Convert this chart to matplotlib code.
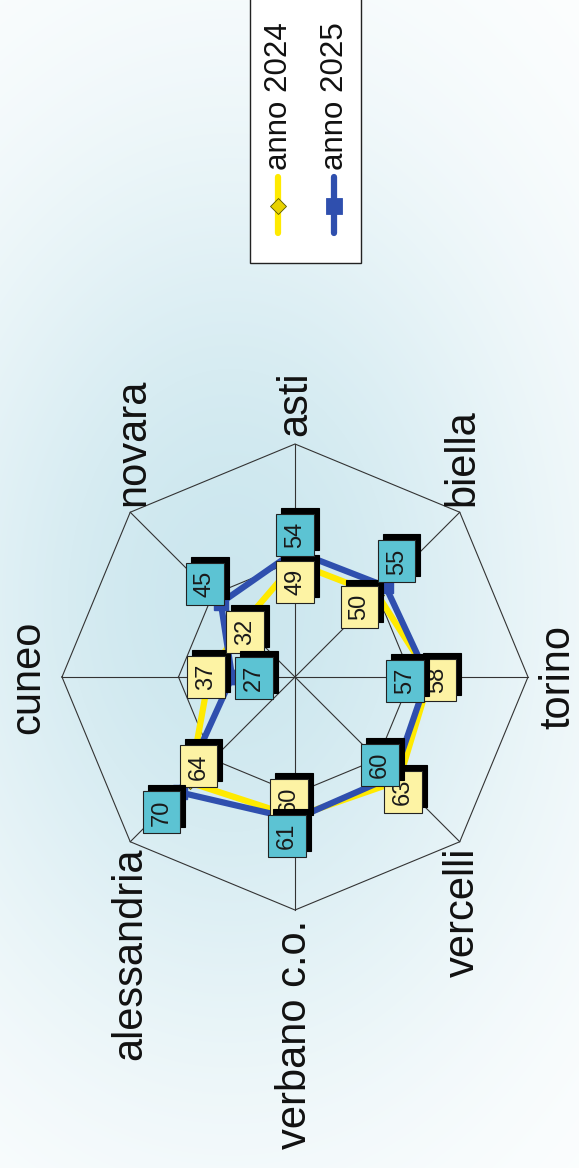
import numpy as np
import matplotlib.pyplot as plt

# categories in drawing order (start at left, go clockwise on the page)
provinces = ["cuneo", "novara", "asti", "biella", "torino",
             "vercelli", "verbano c.o.", "alessandria"]
anno_2024 = [37, 32, 49, 50, 58, 63, 60, 64]
anno_2025 = [27, 45, 54, 55, 57, 60, 61, 70]
series_names = ["anno 2024", "anno 2025"]

W, H = 579, 1168          # output size in px
CX, CY = 295, 677          # chart centre (px from top-left)
PX = 2.33                  # px per unit of value

YELLOW = "#ffea00"
BLUE = "#2f4fae"
BOX_Y = "#fdf3a4"
BOX_B = "#5cc3d3"

# label box offsets in px (right, down) - layout only
off_2024 = [(-3, 0), (3, 8), (0, 19), (-18, 12), (7, 3), (4, 11), (-6, -17), (9, -16)]
off_2025 = [(22, 1), (-16, -19), (0, -16), (11, -25), (-23, 4), (-14, -11), (-8, 17), (-18, 20)]
# category label offsets (px right, px down) and alignment
cat_pos = [(-14, 0, "right", "center"), (3, -6, "center", "bottom"),
           (0, -8, "center", "bottom"), (3, -6, "center", "bottom"),
           (10, 0, "left", "center"), (3, 6, "center", "top"),
           (0, 10, "center", "top"), (0, 6, "center", "top")]

fig = plt.figure(figsize=(W / 100, H / 100), dpi=100)

# soft blue background
bg = fig.add_axes([0, 0, 1, 1])
yy, xx = np.mgrid[0:H, 0:W]
w = np.exp(-((xx - 230) / 330.0) ** 2 - ((yy - 600) / 470.0) ** 2)
base = np.array([0.80, 0.905, 0.935])
img = 1 - w[..., None] * (1 - base)
bg.imshow(img, extent=[0, 1, 0, 1], aspect="auto")
bg.axis("off")

ax = fig.add_axes([0, 0, 1, 1])
ax.set_xlim(-CX / PX, (W - CX) / PX)
ax.set_ylim(-(H - CY) / PX, CY / PX)
ax.axis("off")
ax.patch.set_alpha(0)

n = len(provinces)
theta = np.deg2rad(180 - 45 * np.arange(n))

# grid: two octagons and spokes
for r in (50, 100):
    gx = np.append(r * np.cos(theta), r * np.cos(theta[0]))
    gy = np.append(r * np.sin(theta), r * np.sin(theta[0]))
    ax.plot(gx, gy, color="#333333", lw=0.8, zorder=1)
for t in theta:
    ax.plot([0, 100 * np.cos(t)], [0, 100 * np.sin(t)], color="#333333", lw=0.8, zorder=1)

def closed(vals):
    v = np.array(vals + vals[:1], dtype=float)
    t = np.append(theta, theta[0])
    return v * np.cos(t), v * np.sin(t)

x24, y24 = closed(anno_2024)
x25, y25 = closed(anno_2025)
ax.plot(x24, y24, color=YELLOW, lw=4.5, marker="D", ms=7, mfc="#e8d200",
        mec="#555500", mew=0.6, zorder=3)
ax.plot(x25, y25, color=BLUE, lw=4.5, marker="s", ms=10, mfc=BLUE, mec=BLUE, zorder=4)

def value_labels(vals, offs, fc, z):
    for v, t, (dx, dy) in zip(vals, theta, offs):
        px, py = v * np.cos(t), v * np.sin(t)
        ax.annotate(str(v), (px, py), xytext=(dx + 5, -dy + 6), textcoords="offset pixels",
                    rotation=90, ha="center", va="center", fontsize=17, color="black",
                    family="Liberation Sans",
                    bbox=dict(boxstyle="square,pad=0.33", fc="black", ec="black", lw=0.8),
                    zorder=z)
        ax.annotate(str(v), (px, py), xytext=(dx, -dy), textcoords="offset pixels",
                    rotation=90, ha="center", va="center", fontsize=17, color="#1a1a1a",
                    family="Liberation Sans",
                    bbox=dict(boxstyle="square,pad=0.33", fc=fc, ec="#222222", lw=0.8),
                    zorder=z + 0.5)

value_labels(anno_2024, off_2024, BOX_Y, 5)
value_labels(anno_2025, off_2025, BOX_B, 7)

for name, t, (dx, dy, ha, va) in zip(provinces, theta, cat_pos):
    ax.annotate(name, (100 * np.cos(t), 100 * np.sin(t)), xytext=(dx, -dy),
                textcoords="offset pixels", rotation=90, ha=ha, va=va,
                fontsize=30, color="#111111", family="Liberation Sans")

# legend box drawn by hand (rotated layout)
def fpt(x, y):
    return x / W, 1 - y / H

x0, y0 = fpt(250, -5)
x1, y1 = fpt(361, 263)
fig.patches.append(plt.Rectangle((x0, y1), x1 - x0, y0 - y1, transform=fig.transFigure,
                                 fc="white", ec="#222222", lw=1.0, zorder=10))
for lx, name, col, mk, ms, mfc, mec in [(278, series_names[0], YELLOW, "D", 8, "#e8d200", "#555500"),
                                        (334, series_names[1], BLUE, "s", 11, BLUE, BLUE)]:
    xa, ya = fpt(lx, 177)
    xb, yb = fpt(lx, 233)
    fig.add_artist(plt.Line2D([xa, xb], [ya, yb], transform=fig.transFigure, color=col,
                              lw=4.5, solid_capstyle="round", zorder=11))
    xm, ym = fpt(lx, 206)
    fig.add_artist(plt.Line2D([xm], [ym], transform=fig.transFigure, marker=mk, ms=ms,
                              mfc=mfc, mec=mec, mew=0.6, zorder=12))
    xt, yt = fpt(lx + 1, 170)
    fig.text(xt, yt, name, rotation=90, ha="center", va="bottom", fontsize=22.5,
             color="#111111", family="Liberation Sans", zorder=12)

fig.savefig("out.png", dpi=100)
